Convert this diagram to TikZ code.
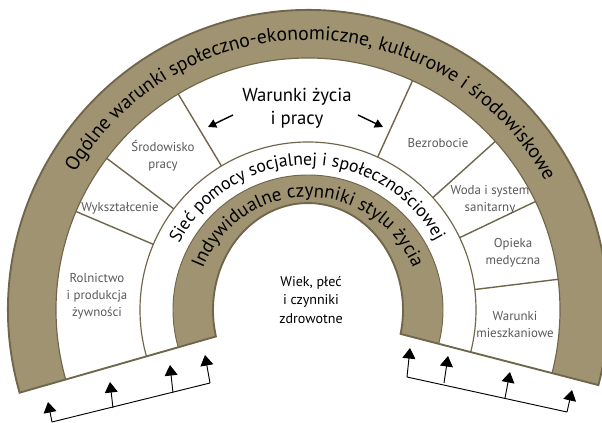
\documentclass[tikz,border=0pt]{standalone}
\usepackage{fontspec}
\setmainfont{PT Sans}
\usetikzlibrary{arrows.meta,decorations.text}

\definecolor{bandfill}{RGB}{160,147,113}
\definecolor{bandline}{RGB}{112,102,76}
\definecolor{ringtext}{RGB}{90,90,90}

\tikzset{
  ringlabel/.style={align=center, text=ringtext, font=\fontsize{11}{14.5}\selectfont},
  divider/.style={draw=bandline, line width=1.2pt},
  uparrow/.style={-{Triangle[length=9pt,width=11pt]}, line width=0.8pt},
  sidearrow/.style={-{Triangle[length=7pt,width=7.5pt]}, line width=1.2pt},
}

\def\rainbowshape{(196:300) arc[start angle=196,end angle=-14.5,radius=300]
  -- (92.6,-23.95) arc[start angle=-12.9,end angle=194.3,x radius=95,y radius=107] -- cycle}

\begin{document}
\begin{tikzpicture}[x=0.3mm,y=0.3mm]
\useasboundingbox (-308,-113) rectangle (294,310);

% bands
\fill[white] \rainbowshape;
\begin{scope}
\clip \rainbowshape;
\fill[bandfill] (0,0) circle[radius=300];
\fill[white] (0,0) circle[radius=252];
\draw[bandline, line width=1pt] (0,0) circle[radius=252];
\draw[bandline, line width=1pt] (0,0) circle[radius=168];
\fill[bandfill] (0,0) circle[radius=135];
\draw[bandline, line width=0.8pt] (0,0) circle[radius=135];
\end{scope}

% sectors of the working and living conditions
\draw[divider] (157:168) -- (157:252);
\draw[divider] (143:168) -- (143:252);
\draw[divider] (121:168) -- (121:252);
\draw[divider] (65.5:168) -- (65.5:252);
\draw[divider] (42:168) -- (42:252);
\draw[divider] (25.5:168) -- (25.5:252);
\draw[divider] (7:168) -- (7:252);

\draw[bandline, line width=1.6pt] \rainbowshape;

% curved texts
\path[decorate, decoration={text along path, text align=center,
  text={|\fontsize{16.8}{16.8}\selectfont|Ogólne warunki społeczno-ekonomiczne, kulturowe i środowiskowe}}]
  (171:270) arc[start angle=171,end angle=7,radius=270];
\path[decorate, decoration={text along path, text align=center,
  text={|\fontsize{15.2}{15.2}\selectfont|Sieć pomocy socjalnej i społecznościowej}}]
  (180.5:145) arc[start angle=180.5,end angle=0.5,radius=145];
\path[decorate, decoration={text along path, text align=center,
  text={|\fontsize{16.2}{16.2}\selectfont|Indywidualne czynniki stylu życia}}]
  (180:113) arc[start angle=180,end angle=0,radius=113];

% labels
\node[align=center, font=\fontsize{16}{19.5}\selectfont] (warunki) at (-11,202) {Warunki życia\\i pracy};
\node[ringlabel] (rolnictwo) at (-211,14) {Rolnictwo\\i produkcja\\żywności};
\node[ringlabel] (wyksztalcenie) at (-188,102) {Wykształcenie};
\node[ringlabel] (srodowisko) at (-145,154) {Środowisko\\pracy};
\node[ringlabel] (bezrobocie) at (130,167) {Bezrobocie};
\node[ringlabel] (woda) at (182,110) {Woda i system\\sanitarny};
\node[ringlabel] (opieka) at (205,57) {Opieka\\medyczna};
\node[ringlabel] (mieszkanie) at (207,-15) {Warunki\\mieszkaniowe};
\node[align=center, font=\fontsize{12}{15.5}\selectfont] (wiek) at (3,10) {Wiek, płeć\\i czynniki\\zdrowotne};

% arrows beside the heading
\coordinate (hl1) at (-75,195);
\coordinate (hl2) at (-100,183);
\draw[sidearrow] (hl1) -- (hl2);
\coordinate (hr1) at (50,195);
\coordinate (hr2) at (75,183);
\draw[sidearrow] (hr1) -- (hr2);

% left bracket
\coordinate (lb1) at (-256,-112);
\coordinate (lb2) at (-195,-98);
\coordinate (lb3) at (-135,-83);
\coordinate (lb4) at (-98,-73);
\coordinate (lt1) at (-260,-92);
\coordinate (lt2) at (-198,-72);
\coordinate (lt3) at (-138,-55);
\coordinate (lt4) at (-103,-45);
\draw[line width=0.8pt] (lb1) -- (lb4);
\draw[uparrow] (lb1) -- (lt1);
\draw[uparrow] (lb2) -- (lt2);
\draw[uparrow] (lb3) -- (lt3);
\draw[uparrow] (lb4) -- (lt4);

% right bracket
\coordinate (rb1) at (99,-67);
\coordinate (rb2) at (136,-73);
\coordinate (rb3) at (197,-88);
\coordinate (rb4) at (259,-102);
\coordinate (rt1) at (102,-38);
\coordinate (rt2) at (140,-46);
\coordinate (rt3) at (202,-62);
\coordinate (rt4) at (264,-80);
\draw[line width=0.8pt] (rb1) -- (rb4);
\draw[uparrow] (rb1) -- (rt1);
\draw[uparrow] (rb2) -- (rt2);
\draw[uparrow] (rb3) -- (rt3);
\draw[uparrow] (rb4) -- (rt4);
\end{tikzpicture}
\end{document}
